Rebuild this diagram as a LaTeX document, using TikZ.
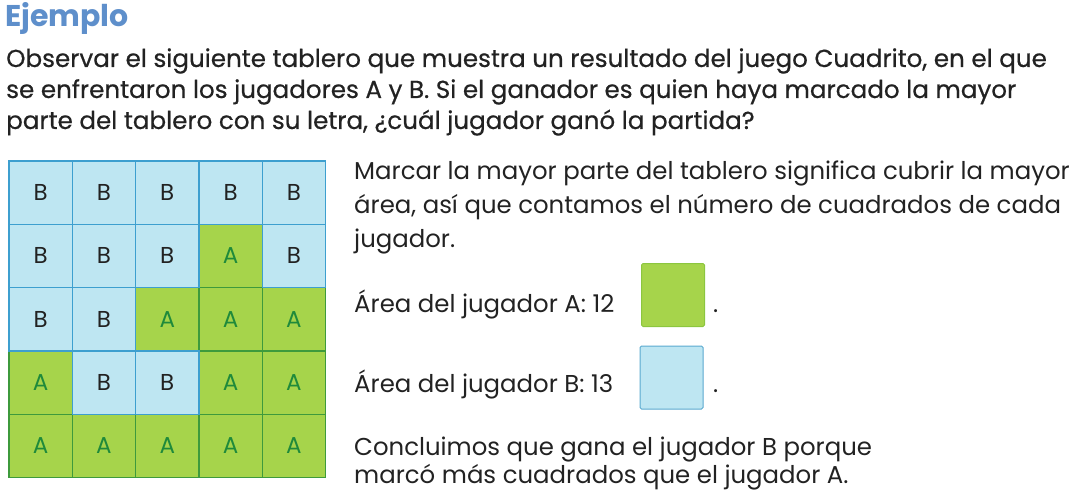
\documentclass[tikz,border=0pt]{standalone}
\usepackage{fontspec}
\setmainfont{Poppins}
\newfontfamily\popfont{Poppins}
\newfontfamily\popmed{Poppins}[FakeBold=0.5]
\definecolor{ctext}{HTML}{222222}
\definecolor{ctitle}{HTML}{5E8FCB}
\definecolor{cblue}{HTML}{BEE6F2}
\definecolor{cblueline}{HTML}{3D9FCF}
\definecolor{cgreen}{HTML}{A6D44B}
\definecolor{cgreenline}{HTML}{3E9A3C}
\definecolor{cAtext}{HTML}{1F8A3B}
\definecolor{csqAline}{HTML}{8CC63F}
\definecolor{csqBline}{HTML}{5AA9CF}
\begin{document}
\begin{tikzpicture}[x=1pt,y=-1pt]
\useasboundingbox (0,0) rectangle (1079,492);
\tikzset{
  gridcell/.style={line width=1.3pt, minimum size=63.3pt, inner sep=0pt, font=\popfont\fontsize{23}{23}\selectfont},
  cellA/.style={gridcell, draw=cgreenline, fill=cgreen, text=cAtext},
  cellB/.style={gridcell, draw=cblueline, fill=cblue, text=ctext},
  toptext/.style={anchor=base west, inner sep=0pt, text=ctext, font=\popmed\fontsize{24.6}{24.6}\selectfont},
  sidetext/.style={anchor=base west, inner sep=0pt, text=ctext, font=\popfont\fontsize{24.4}{24.4}\selectfont},
  legendsq/.style={minimum size=63pt, inner sep=0pt, line width=1pt, rounded corners=1.5pt},
}
% title
\node[anchor=base west, inner sep=0pt, text=ctitle, font=\popfont\bfseries\fontsize{30}{30}\selectfont] (title) at (5,27) {Ejemplo};
% top paragraph
\node[toptext] (p1) at (6,67) {Observar el siguiente tablero que muestra un resultado del juego Cuadrito, en el que};
\node[toptext] (p2) at (6,98) {se enfrentaron los jugadores A y B. Si el ganador es quien haya marcado la mayor};
\node[toptext] (p3) at (6,129) {parte del tablero con su letra, ¿cuál jugador ganó la partida?};
% grid
\foreach \c/\r in {4/2,3/3,4/3,5/3,1/4,4/4,5/4,1/5,2/5,3/5,4/5,5/5}
  \node[cellA] (a-\c-\r) at ({9+63.3*(\c-0.5)},{161+63.3*(\r-0.5)}) {A};
\foreach \c/\r in {1/1,2/1,3/1,4/1,5/1,1/2,2/2,3/2,5/2,1/3,2/3,2/4,3/4}
  \node[cellB] (b-\c-\r) at ({9+63.3*(\c-0.5)},{161+63.3*(\r-0.5)}) {B};
% side text
\node[sidetext] (s1) at (354,179) {Marcar la mayor parte del tablero significa cubrir la mayor};
\node[sidetext] (s2) at (354,213) {área, así que contamos el número de cuadrados de cada};
\node[sidetext] (s3) at (354,247) {jugador.};
\node[sidetext] (s4) at (354,312) {Área del jugador A: 12};
\node[sidetext] (s5) at (354,392) {Área del jugador B: 13};
\node[sidetext] (s6) at (354,455) {Concluimos que gana el jugador B porque};
\node[sidetext] (s7) at (354,483) {marcó más cuadrados que el jugador A.};
% legend squares
\node[legendsq, draw=csqAline, fill=cgreen] (sqA) at (673,295) {};
\node[legendsq, draw=csqBline, fill=cblue] (sqB) at (671.5,377.5) {};
\node[sidetext] (dotA) at (713,312) {.};
\node[sidetext] (dotB) at (713,392) {.};
\end{tikzpicture}
\end{document}
